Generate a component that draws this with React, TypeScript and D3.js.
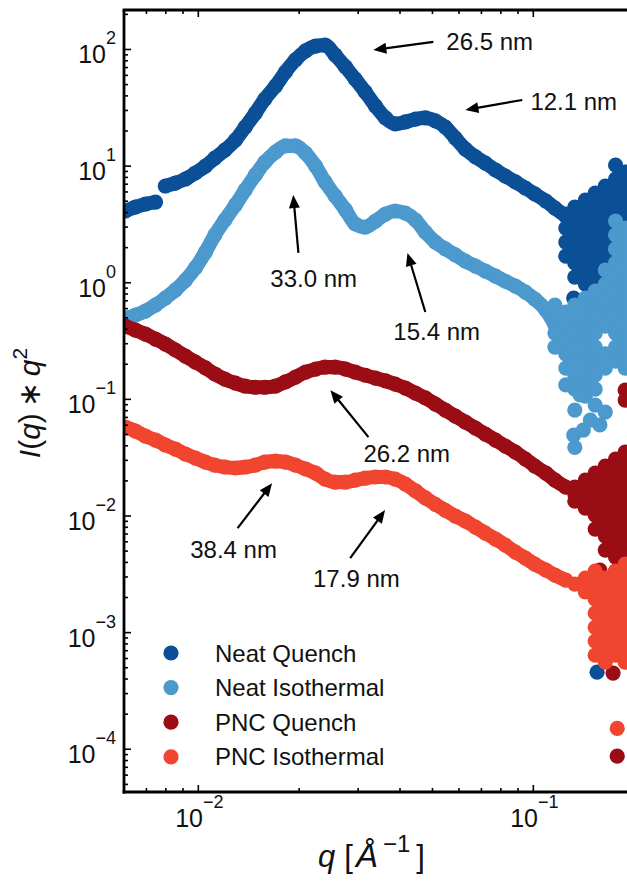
import React from 'react';
import * as d3 from 'd3';

const W = 627;
const H = 883;

// ---------- data ----------
const seriesNames = ['Neat Quench', 'Neat Isothermal', 'PNC Quench', 'PNC Isothermal'];
const seriesColors = ['#0b4f97', '#4b99cd', '#9b0d15', '#f0452f'];

// q positions of the dense (smooth) part of each curve
const qBand = [
  0.00605, 0.00649, 0.00695, 0.00745, 0.00797, 0.00854, 0.00915, 0.0098, 0.0105, 0.0112,
  0.012, 0.0129, 0.0138, 0.0148, 0.0158, 0.017, 0.0182, 0.0195, 0.0209, 0.0224,
  0.0239, 0.0256, 0.0275, 0.0294, 0.0315, 0.0338, 0.0362, 0.0387, 0.0415, 0.0445,
  0.0476, 0.051, 0.0546, 0.0585, 0.0627, 0.0672, 0.0719, 0.0771, 0.0825, 0.0884,
  0.0947, 0.101, 0.109, 0.116, 0.125,
];

const neatQuenchBand = [
  4.12, 4.46, 4.73, 4.92, 6.75, 7.16, 7.75, 8.73, 10.0, 11.7,
  13.7, 16.7, 21.6, 28.5, 37.6, 48.6, 64.1, 81.3, 97.1, 107,
  109, 89.7, 70.8, 55.8, 43.2, 32.7, 25.9, 23.0, 23.9, 25.3,
  25.9, 24.4, 21.6, 17.4, 14.0, 12.0, 10.6, 9.26, 8.22, 7.31,
  6.49, 5.77, 5.02, 4.37, 3.73,
];
const neatIsoBand = [
  0.498, 0.528, 0.572, 0.644, 0.739, 0.865, 1.05, 1.34, 1.83, 2.56,
  3.45, 4.64, 6.24, 8.39, 10.8, 13.2, 14.9, 14.9, 12.9, 10.0,
  7.31, 5.55, 4.21, 3.19, 3.0, 3.38, 3.88, 4.12, 3.96, 3.45,
  2.72, 2.23, 1.95, 1.73, 1.53, 1.39, 1.26, 1.14, 1.03, 0.937,
  0.832, 0.725, 0.583, 0.434, 0.292,
];
const pncQuenchBand = [
  0.425, 0.393, 0.363, 0.329, 0.298, 0.265, 0.235, 0.209, 0.186, 0.165,
  0.149, 0.138, 0.13, 0.127, 0.127, 0.13, 0.141, 0.155, 0.171, 0.182,
  0.189, 0.189, 0.182, 0.171, 0.161, 0.152, 0.144, 0.135, 0.125, 0.113,
  0.103, 0.0912, 0.081, 0.0719, 0.0639, 0.0568, 0.0504, 0.0448, 0.0398, 0.0353,
  0.0308, 0.0268, 0.0233, 0.0203, 0.0177,
];
const pncIsoBand = [
  0.0579, 0.0535, 0.0484, 0.0448, 0.0406, 0.0375, 0.034, 0.0314, 0.029, 0.0273,
  0.0263, 0.0258, 0.0263, 0.0273, 0.029, 0.0296, 0.029, 0.0273, 0.0253, 0.0233,
  0.0207, 0.0195, 0.0195, 0.0203, 0.0211, 0.0216, 0.0216, 0.0207, 0.0188, 0.0164,
  0.0143, 0.0126, 0.0112, 0.00998, 0.00904, 0.00803, 0.00713, 0.00634, 0.00562, 0.0049,
  0.00435, 0.00386, 0.00344, 0.00311, 0.00282,
];
// index where a curve has a visible jump (band drawn as separate runs)
const bandBreaks = [[4], [], [], []];

// high-q noisy region: columns of points (q of column, I values in column)
const noiseColQ = [0.116, 0.125, 0.133, 0.143, 0.153, 0.164, 0.176, 0.188];
const neatQuenchCols = [
  [],
  [3.88, 2.94, 2.23, 1.69],
  [4.46, 3.38, 2.57, 1.95, 1.48, 1.119],
  [5.12, 3.88, 2.94, 2.23, 1.69, 1.285, 0.975],
  [5.88, 4.46, 3.38, 2.57, 1.95, 1.48, 1.119, 0.849],
  [6.75, 5.12, 3.88, 2.94, 2.23, 1.69, 1.285, 0.975],
  [10.22, 7.75, 5.88, 4.46, 3.38, 2.57, 1.95, 1.48],
  [8.9, 6.75, 5.12, 3.88, 2.94, 2.23, 1.69],
];
const neatIsoCols = [
  [0.644, 0.488, 0.37, 0.281],
  [0.561, 0.425, 0.323, 0.245, 0.1856],
  [0.644, 0.488, 0.37, 0.281, 0.213, 0.1616, 0.1225],
  [0.739, 0.561, 0.425, 0.323, 0.245, 0.1856, 0.1407, 0.1067],
  [0.849, 0.644, 0.488, 0.37, 0.281, 0.213, 0.1616, 0.1225],
  [1.285, 0.975, 0.739, 0.561, 0.425, 0.245, 0.1856],
  [3.38, 2.57, 1.95, 1.48, 1.119, 0.849, 0.644, 0.488, 0.37, 0.281, 0.213],
  [2.94, 2.23, 1.69, 1.285, 0.975, 0.739, 0.561, 0.425, 0.323, 0.245, 0.1856],
];
const pncQuenchCols = [
  [],
  [],
  [0.0177, 0.0134],
  [0.0203, 0.0154, 0.01169],
  [0.0233, 0.0177, 0.0134, 0.01018, 0.00772],
  [0.0268, 0.0203, 0.0154, 0.01169, 0.00887, 0.00673, 0.0051],
  [0.0308, 0.0233, 0.0177, 0.0134, 0.01018, 0.00772, 0.00586, 0.00444, 0.00337],
  [0.0353, 0.0268, 0.0203, 0.0154, 0.01169, 0.00887, 0.00673, 0.0051],
];
const pncIsoCols = [
  [],
  [],
  [],
  [0.00293, 0.00223],
  [0.00337, 0.00256, 0.00194, 0.00147, 0.00111, 0.000846, 0.000641],
  [0.00293, 0.00223, 0.00169, 0.00128, 0.000971, 0.000737, 0.000558],
  [0.00337, 0.00256, 0.00194, 0.00147, 0.00111, 0.000846, 0.000641],
  [0.00387, 0.00293, 0.00223, 0.00169, 0.00128, 0.000971, 0.000737, 0.000558],
];

// isolated / stray points [q, I]
const neatQuenchStray: [number, number][] = [[0.132, 0.739], [0.148, 0.711], [0.155, 0.000458]];
const neatIsoStray: [number, number][] = [
  [0.125, 0.133], [0.138, 0.109], [0.153, 0.0894], [0.133, 0.081], [0.148, 0.0665],
  [0.158, 0.0603], [0.164, 0.0778], [0.132, 0.0494], [0.133, 0.0387], [0.141, 0.0545],
];
const pncQuenchStray: [number, number][] = [
  [0.133, 0.0154], [0.143, 0.0129], [0.188, 0.12], [0.188, 0.0986], [0.158, 0.00344],
  [0.17, 0.00282], [0.173, 0.00045], [0.178, 0.0000873],
];
const pncIsoStray: [number, number][] = [[0.133, 0.00261], [0.143, 0.00241], [0.178, 0.000151]];

const bands = [neatQuenchBand, neatIsoBand, pncQuenchBand, pncIsoBand];
const noiseCols = [neatQuenchCols, neatIsoCols, pncQuenchCols, pncIsoCols];
const strays = [neatQuenchStray, neatIsoStray, pncQuenchStray, pncIsoStray];

// annotations (data coordinates)
const annLabels = ['26.5 nm', '12.1 nm', '33.0 nm', '15.4 nm', '26.2 nm', '38.4 nm', '17.9 nm'];
const annHead: [number, number][] = [
  [0.0333, 99.0], [0.0627, 30.3], [0.0192, 5.65], [0.0421, 1.8], [0.0248, 0.12], [0.0166, 0.0191], [0.0361, 0.01123],
];
const annTail: [number, number][] = [
  [0.0503, 116], [0.0927, 36.9], [0.0199, 1.8], [0.0476, 0.561], [0.0322, 0.0475], [0.0131, 0.00787], [0.0284, 0.00435],
];
const annText: [number, number][] = [
  [0.055, 99.0], [0.098, 30.3], [0.0164, 0.919], [0.0382, 0.323], [0.0311, 0.029], [0.00946, 0.00435], [0.022, 0.00246],
];

// axes
const xDomain: [number, number] = [0.006, 0.3];
const yDomain: [number, number] = [4.3e-5, 218];
const xMajor = [0.01, 0.1];
const xMajorExp = ['\u22122', '\u22121'];
const yMajor = [1e-4, 1e-3, 1e-2, 1e-1, 1, 10, 100];
const yMajorExp = ['\u22124', '\u22123', '\u22122', '\u22121', '0', '1', '2'];

// ---------- layout ----------
const L = 124;
const T = 10;
const B = 792;
const R = L + 335 * Math.log10(xDomain[1] / xDomain[0]);
const FONT = "'Liberation Sans', Arial, Helvetica, sans-serif";
const MR = 7.6;

export default function App() {
  const x = d3.scaleLog().domain(xDomain).range([L, R]);
  const y = d3.scaleLog().domain(yDomain).range([B, T]);

  const xMinor = x.ticks().filter((t) => !xMajor.some((m) => Math.abs(m - t) / m < 1e-6));
  const yMinor = y.ticks().filter((t) => !yMajor.some((m) => Math.abs(m - t) / m < 1e-6));

  const bandRuns = (si: number) => {
    const cuts = [0, ...bandBreaks[si], qBand.length];
    const runs: [number, number][][] = [];
    for (let k = 0; k < cuts.length - 1; k++) {
      const run: [number, number][] = [];
      for (let i = cuts[k]; i < cuts[k + 1]; i++) run.push([qBand[i], bands[si][i]]);
      runs.push(run);
    }
    return runs;
  };
  const pathGen = d3
    .line<[number, number]>()
    .x((d) => x(d[0]))
    .y((d) => y(d[1]))
    .curve(d3.curveMonotoneX);

  const noisePts = (si: number) => {
    const pts: [number, number][] = [];
    noiseCols[si].forEach((col, ci) => col.forEach((v) => pts.push([noiseColQ[ci], v])));
    return pts.concat(strays[si]);
  };

  const arrow = (i: number) => {
    const hx = x(annHead[i][0]);
    const hy = y(annHead[i][1]);
    const tx = x(annTail[i][0]);
    const ty = y(annTail[i][1]);
    const dx = hx - tx;
    const dy = hy - ty;
    const len = Math.hypot(dx, dy);
    const ux = dx / len;
    const uy = dy / len;
    const hl = 13;
    const hw = 5.5;
    const bx = hx - ux * hl;
    const by = hy - uy * hl;
    const pts = `${hx},${hy} ${bx - uy * hw},${by + ux * hw} ${bx + uy * hw},${by - ux * hw}`;
    return (
      <g key={'a' + i}>
        <line x1={tx} y1={ty} x2={bx + ux * 1} y2={by + uy * 1} stroke="#000" strokeWidth={2.2} />
        <polygon points={pts} fill="#000" />
        <text x={x(annText[i][0])} y={y(annText[i][1])} fontSize={24} fontFamily={FONT} fill="#111">
          {annLabels[i]}
        </text>
      </g>
    );
  };

  return (
    <svg
      width={W}
      height={H}
      viewBox={`0 0 ${W} ${H}`}
      style={{ position: 'absolute', left: 0, top: 0, background: '#fff' }}
    >
      <rect x={0} y={0} width={W} height={H} fill="#fff" />
      <defs>
        <clipPath id="plotclip">
          <rect x={L} y={T} width={R - L} height={B - T} />
        </clipPath>
      </defs>

      <g clipPath="url(#plotclip)">
        {seriesNames.map((name, si) => (
          <g key={name} fill={seriesColors[si]}>
            {bandRuns(si).map((run, k) => (
              <path
                key={'p' + k}
                d={pathGen(run) || ''}
                fill="none"
                stroke={seriesColors[si]}
                strokeWidth={MR * 2 - 1}
                strokeLinecap="round"
                strokeLinejoin="round"
              />
            ))}
            {qBand.map((q, i) => (
              <circle key={'b' + i} cx={x(q)} cy={y(bands[si][i])} r={MR} />
            ))}
            {noisePts(si).map((p, i) => (
              <circle key={'n' + i} cx={x(p[0])} cy={y(p[1])} r={MR} />
            ))}
          </g>
        ))}
      </g>

      {/* spines */}
      <g stroke="#000" strokeWidth={2.8} fill="none">
        <line x1={L} y1={T} x2={L} y2={B + 1.4} />
        <line x1={L - 1.4} y1={B} x2={W + 5} y2={B} />
        <line x1={L - 1.4} y1={T} x2={W + 5} y2={T} />
      </g>

      {/* ticks */}
      <g stroke="#000" strokeWidth={1.6}>
        {yMajor.map((t) => (
          <line key={'ym' + t} x1={L} x2={L + 7} y1={y(t)} y2={y(t)} />
        ))}
        {yMinor.map((t) => (
          <line key={'yn' + t} x1={L} x2={L + 4} y1={y(t)} y2={y(t)} />
        ))}
        {xMajor.map((t) => (
          <g key={'xm' + t}>
            <line x1={x(t)} x2={x(t)} y1={B} y2={B - 7} />
            <line x1={x(t)} x2={x(t)} y1={T} y2={T + 7} />
          </g>
        ))}
        {xMinor.map((t) => (
          <g key={'xn' + t}>
            <line x1={x(t)} x2={x(t)} y1={B} y2={B - 4} />
            <line x1={x(t)} x2={x(t)} y1={T} y2={T + 4} />
          </g>
        ))}
      </g>

      {/* tick labels */}
      <g fontFamily={FONT} fill="#111">
        {yMajor.map((t, i) => (
          <text key={'yl' + t} x={116} y={y(t) + 14} textAnchor="end" fontSize={25}>
            <tspan>10</tspan>
            <tspan fontSize={18} dy={-19}>{yMajorExp[i]}</tspan>
          </text>
        ))}
        {xMajor.map((t, i) => (
          <text key={'xl' + t} x={x(t) + 1} y={827} textAnchor="middle" fontSize={25}>
            <tspan>10</tspan>
            <tspan fontSize={18} dy={-19}>{xMajorExp[i]}</tspan>
          </text>
        ))}
      </g>

      {/* axis labels */}
      <text x={0} y={0} transform={`translate(40,403) rotate(-90)`} textAnchor="middle" fontFamily={FONT} fontSize={30} fill="#111">
        <tspan fontStyle="italic">I</tspan>
        <tspan>(</tspan>
        <tspan fontStyle="italic">q</tspan>
        <tspan>)</tspan>
        <tspan dx={6}>{'\u2217'}</tspan>
        <tspan dx={6} fontStyle="italic">q</tspan>
        <tspan fontSize={21} dy={-13}>2</tspan>
      </text>
      <text x={318} y={867} fontFamily={FONT} fontSize={31} fill="#111">
        <tspan fontStyle="italic">q</tspan>
        <tspan dx={9}>[</tspan>
        <tspan dx={3} fontStyle="italic" fontSize={33}>{'\u00c5'}</tspan>
        <tspan fontSize={24} dy={-15} dx={5}>{'\u22121'}</tspan>
        <tspan dy={15} dx={6}>]</tspan>
      </text>

      {/* annotations */}
      {annLabels.map((_, i) => arrow(i))}

      {/* legend */}
      <g fontFamily={FONT} fontSize={24} fill="#111">
        {seriesNames.map((name, i) => (
          <g key={'lg' + name} transform={`translate(0,${653 + i * 34.6})`}>
            <circle cx={171} cy={0} r={MR} fill={seriesColors[i]} />
            <text x={215} y={8.5}>{name}</text>
          </g>
        ))}
      </g>
    </svg>
  );
}
